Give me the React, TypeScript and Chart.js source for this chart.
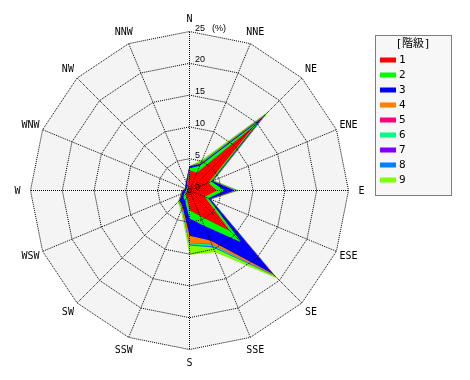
import React, { useEffect, useRef } from "react";
import { Chart, registerables } from "chart.js";

Chart.register(...registerables);

const directions = ["N", "NNE", "NE", "ENE", "E", "ESE", "SE", "SSE", "S", "SSW", "SW", "WSW", "W", "WNW", "NW", "NNW"];
const classLabels = ["1", "2", "3", "4", "5", "6", "7", "8", "9"];
const classColors = ["#ff0000", "#00ff00", "#0000ff", "#ff8000", "#ff0080", "#00ff80", "#8000ff", "#0080ff", "#80ff00"];
const tickValues = [0, 5, 10, 15, 20, 25];
const unitLabel = "(%)";
const legendTitle = "[階級]";

// frequency (%) of each class by direction: N, NNE, NE, ENE, E, ESE, SE, SSE, S, SSW, SW, WSW, W, WNW, NW, NNW
const class1 = [3.2, 3.0, 14.5, 3.2, 4.3, 2.6, 9.0, 4.4, 3.1, 1.2, 0.9, 0.5, 0.4, 0.3, 0.4, 0.8];
const class2 = [0.3, 1.2, 1.0, 0.5, 1.2, 0.6, 2.5, 1.6, 1.3, 0.6, 0.5, 0.3, 0.3, 0.2, 0.2, 0.2];
const class3 = [0.3, 0.3, 0.8, 0.2, 1.6, 0.3, 7.0, 2.5, 2.7, 1.0, 0.8, 0.5, 0.4, 0.2, 0.3, 0.4];
const class4 = [0.0, 0.1, 0.3, 0.05, 0.2, 0.05, 0.3, 0.6, 1.1, 0.2, 0.1, 0.1, 0.05, 0.0, 0.0, 0.0];
const class5 = [0.0, 0.05, 0.2, 0.0, 0.05, 0.0, 0.05, 0.1, 0.05, 0.0, 0.0, 0.0, 0.0, 0.0, 0.0, 0.0];
const class6 = [0.0, 0.15, 0.2, 0.05, 0.15, 0.05, 0.1, 0.3, 0.25, 0.1, 0.05, 0.05, 0.0, 0.0, 0.0, 0.0];
const class7 = [0.0, 0.0, 0.05, 0.0, 0.0, 0.0, 0.03, 0.05, 0.05, 0.0, 0.0, 0.0, 0.0, 0.0, 0.0, 0.0];
const class8 = [0.0, 0.05, 0.15, 0.05, 0.05, 0.0, 0.07, 0.15, 0.1, 0.05, 0.05, 0.0, 0.0, 0.0, 0.0, 0.0];
const class9 = [0.1, 0.45, 0.6, 0.15, 0.3, 0.1, 0.6, 0.8, 1.45, 0.35, 0.2, 0.15, 0.15, 0.1, 0.1, 0.1];

const classSeries = [class1, class2, class3, class4, class5, class6, class7, class8, class9];

export default function App() {
  const canvasRef = useRef<HTMLCanvasElement | null>(null);

  useEffect(() => {
    const canvas = canvasRef.current;
    if (!canvas) return;

    // stacked (cumulative) radii
    const cumulative: number[][] = [];
    classSeries.forEach((series, k) => {
      cumulative.push(series.map((v, i) => (k === 0 ? v : cumulative[k - 1][i] + v)));
    });

    const datasets = cumulative.map((data, k) => ({
      label: classLabels[k],
      data,
      backgroundColor: classColors[k],
      borderColor: classColors[k],
      borderWidth: 0,
      pointRadius: 0,
      fill: "origin" as const,
    }));

    const decor = {
      id: "decor",
      beforeDraw(chart: any) {
        const s = chart.scales.r;
        const ctx = chart.ctx;
        ctx.save();
        ctx.fillStyle = "#f4f4f4";
        ctx.beginPath();
        directions.forEach((_, i) => {
          const p = s.getPointPositionForValue(i, s.max);
          if (i === 0) ctx.moveTo(p.x, p.y);
          else ctx.lineTo(p.x, p.y);
        });
        ctx.closePath();
        ctx.fill();
        ctx.restore();
      },
      afterDraw(chart: any) {
        const s = chart.scales.r;
        const ctx = chart.ctx;
        ctx.save();
        // direction labels
        ctx.fillStyle = "#000";
        ctx.font = "10px 'DejaVu Sans Mono', monospace";
        ctx.textAlign = "center";
        ctx.textBaseline = "middle";
        directions.forEach((d, i) => {
          const p = s.getPointPosition(i, s.drawingArea + 13);
          ctx.fillText(d, p.x, p.y + 0.5);
        });
        // tick labels
        ctx.font = "9px 'Liberation Sans', sans-serif";
        ctx.textAlign = "left";
        ctx.textBaseline = "alphabetic";
        tickValues.forEach((v) => {
          const y = s.yCenter - s.getDistanceFromCenterForValue(v);
          ctx.fillText(String(v), s.xCenter + 5.5, y - 1);
          if (v === s.max) ctx.fillText(unitLabel, s.xCenter + 22.5, y - 1);
        });
        // legend box
        const bx = 375.5, by = 35.5, bw = 76, bh = 160;
        ctx.fillStyle = "#f7f7f7";
        ctx.fillRect(bx, by, bw, bh);
        ctx.strokeStyle = "#000";
        ctx.lineWidth = 1;
        ctx.setLineDash([1, 1]);
        ctx.strokeRect(bx, by, bw, bh);
        ctx.setLineDash([]);
        ctx.fillStyle = "#000";
        ctx.font = "11px 'DejaVu Sans Mono', 'Noto Sans CJK JP', monospace";
        ctx.textAlign = "center";
        ctx.textBaseline = "middle";
        ctx.fillText(legendTitle, 413, 44);
        ctx.textAlign = "left";
        ctx.font = "11px 'DejaVu Sans Mono', monospace";
        classLabels.forEach((lab, k) => {
          const y = 60 + k * 15;
          ctx.fillStyle = classColors[k];
          ctx.fillRect(380, y - 2.5, 16, 5);
          ctx.fillStyle = "#000";
          ctx.fillText(lab, 399, y);
        });
        ctx.restore();
      },
    };

    const chart = new Chart(canvas, {
      type: "radar",
      data: { labels: directions, datasets },
      options: {
        responsive: false,
        animation: false,
        layout: { padding: { left: 30, top: 31, right: 122, bottom: 31 } },
        plugins: { legend: { display: false }, tooltip: { enabled: false } },
        elements: { line: { borderWidth: 0, tension: 0 }, point: { radius: 0 } },
        scales: {
          r: {
            min: 0,
            max: 25,
            ticks: { display: false, stepSize: 5 },
            pointLabels: { display: false },
            grid: { color: "#000", lineWidth: 1, z: 1 },
            border: { dash: [1, 1], dashOffset: 0.5 },
            angleLines: { color: "#000", lineWidth: 1, borderDash: [1, 1], borderDashOffset: 0.5 },
            afterFit: (scale: any) => {
              scale.xCenter += 0.5;
              scale.yCenter += 0.5;
            },
          },
        },
      } as any,
      plugins: [decor],
    });

    return () => chart.destroy();
  }, []);

  return (
    <div style={{ position: "absolute", left: 0, top: 0, width: 470, height: 380, background: "#fff" }}>
      <canvas ref={canvasRef} width={470} height={380} style={{ display: "block" }} />
    </div>
  );
}
